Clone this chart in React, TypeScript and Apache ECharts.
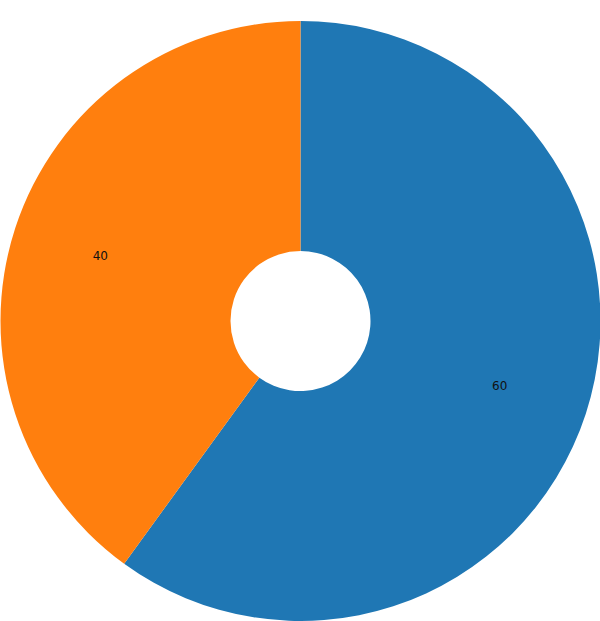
import React, { useEffect, useRef } from "react";
import * as echarts from "echarts";

const categories = ["A", "B"];
const values = [60, 40];
const colors = ["#1f77b4", "#ff7f0e"];

export default function App() {
  const ref = useRef<HTMLDivElement>(null);
  useEffect(() => {
    document.body.style.margin = "0";
    const chart = echarts.init(ref.current!, null, { renderer: "svg" });
    const data = categories.map((c, i) => ({
      name: c,
      value: values[i],
      itemStyle: { color: colors[i] },
    }));
    chart.setOption({
      animation: false,
      series: [
        {
          type: "pie",
          center: [300.5, 321],
          radius: [70, 300],
          startAngle: 90,
          clockwise: true,
          silent: true,
          label: { show: false },
          labelLine: { show: false },
          itemStyle: { borderWidth: 0 },
          data,
        },
        {
          type: "pie",
          center: [300, 321],
          radius: [114, 300],
          startAngle: 90,
          clockwise: true,
          silent: true,
          label: {
            show: true,
            position: "inside",
            formatter: "{c}",
            color: "#111",
            fontSize: 12,
            fontFamily: "DejaVu Sans, sans-serif",
          },
          labelLine: { show: false },
          itemStyle: { color: "rgba(0,0,0,0)", borderWidth: 0 },
          data: categories.map((c, i) => ({ name: c, value: values[i] })),
        },
      ],
    });
    return () => chart.dispose();
  }, []);
  return <div ref={ref} style={{ width: 600, height: 621 }} />;
}
